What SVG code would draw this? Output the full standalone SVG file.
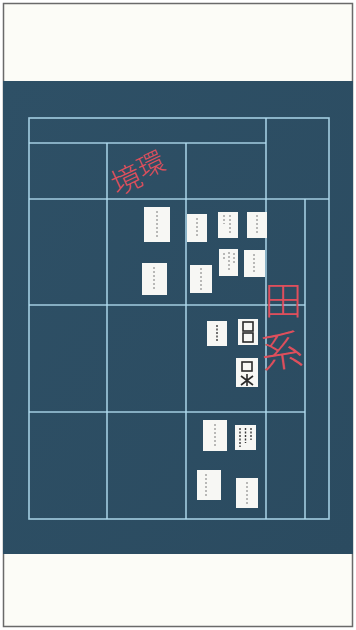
<svg xmlns="http://www.w3.org/2000/svg" width="356" height="630" viewBox="0 0 356 630">
<defs>
<style>
.ch{fill:none;stroke:#b0dbee;stroke-width:1.6;opacity:0.9}
.card{fill:#f7f7f4}
.mk{fill:none;stroke:#7a7a7a;stroke-width:1;stroke-dasharray:2 2}
.mkd{fill:none;stroke:#3a3a3a;stroke-width:1.4;stroke-dasharray:2 1.5}
.blk{fill:none;stroke:#2a2a2a;stroke-width:1.6}
.red{fill:#de4f5c;font-family:"Noto Sans CJK JP","Noto Sans CJK SC",sans-serif;font-weight:300}
</style>
<linearGradient id="bg" x1="0" y1="0" x2="1" y2="1">
<stop offset="0" stop-color="#2e5066"/>
<stop offset="1" stop-color="#2b4b60"/>
</linearGradient>
</defs>
<rect x="0" y="0" width="356" height="630" fill="#ffffff"/>
<rect x="3.5" y="3.5" width="349" height="623" fill="#fcfcf7" stroke="#6a6a6a" stroke-width="1.5"/>
<rect x="3" y="81" width="350" height="473" fill="url(#bg)"/>
<g id="grid">
<rect class="ch" x="29" y="118" width="300" height="401"/>
<line class="ch" x1="29" y1="143" x2="266" y2="143"/>
<line class="ch" x1="29" y1="199" x2="329" y2="199"/>
<line class="ch" x1="29" y1="305" x2="305" y2="305"/>
<line class="ch" x1="29" y1="412" x2="305" y2="412"/>
<line class="ch" x1="107" y1="143" x2="107" y2="519"/>
<line class="ch" x1="186" y1="143" x2="186" y2="519"/>
<line class="ch" x1="266" y1="118" x2="266" y2="519"/>
<line class="ch" x1="305" y1="199" x2="305" y2="519"/>
</g>
<g id="label-kankyo">
<text class="red" font-size="27" transform="translate(150,163) rotate(-25)" text-anchor="middle" dominant-baseline="central">環</text>
<text class="red" font-size="30" transform="translate(125,178) rotate(-25)" text-anchor="middle" dominant-baseline="central">境</text>
</g>
<g id="label-denkei">
<text class="red" font-size="38" x="283" y="297" text-anchor="middle" dominant-baseline="central">田</text>
<text class="red" font-size="42" transform="translate(281,348) rotate(-8)" text-anchor="middle" dominant-baseline="central">系</text>
</g>
<g id="card1"><rect class="card" x="144" y="207" width="26" height="35"/><line class="mk" x1="157" y1="211" x2="157" y2="237"/></g>
<g id="card2"><rect class="card" x="187" y="214" width="20" height="28"/><line class="mk" x1="197" y1="218" x2="197" y2="238"/></g>
<g id="card3"><rect class="card" x="218" y="212" width="20" height="26"/><line class="mk" x1="224" y1="215" x2="224" y2="224"/><line class="mk" x1="230" y1="215" x2="230" y2="234"/></g>
<g id="card4"><rect class="card" x="247" y="212" width="20" height="26"/><line class="mk" x1="257" y1="215" x2="257" y2="234"/></g>
<g id="card5"><rect class="card" x="142" y="263" width="25" height="32"/><line class="mk" x1="154" y1="267" x2="154" y2="291"/></g>
<g id="card6"><rect class="card" x="190" y="265" width="22" height="28"/><line class="mk" x1="201" y1="268" x2="201" y2="290"/></g>
<g id="card7"><rect class="card" x="219" y="249" width="19" height="27"/><line class="mk" x1="224" y1="253" x2="224" y2="260"/><line class="mk" x1="229" y1="252" x2="229" y2="272"/><line class="mk" x1="234" y1="253" x2="234" y2="264"/></g>
<g id="card8"><rect class="card" x="244" y="250" width="21" height="27"/><line class="mk" x1="254" y1="254" x2="254" y2="273"/></g>
<g id="card9"><rect class="card" x="207" y="321" width="20" height="25"/><line class="mkd" x1="217" y1="325" x2="217" y2="341"/></g>
<g id="card10"><rect class="card" x="238" y="319" width="20" height="26"/><rect class="blk" x="243" y="322" width="10" height="9"/><rect class="blk" x="243" y="333" width="10" height="9"/></g>
<g id="card11"><rect class="card" x="236" y="358" width="22" height="29"/><rect class="blk" x="242" y="362" width="10" height="9"/><path class="blk" d="M241 376 L253 385 M253 376 L241 385 M247 374 L247 386"/></g>
<g id="card12"><rect class="card" x="203" y="420" width="24" height="31"/><line class="mk" x1="215" y1="424" x2="215" y2="446"/></g>
<g id="card13"><rect class="card" x="235" y="425" width="21" height="25"/><line class="mkd" x1="240" y1="428" x2="240" y2="447"/><line class="mkd" x1="245.5" y1="428" x2="245.5" y2="443"/><line class="mkd" x1="251" y1="428" x2="251" y2="440"/></g>
<g id="card14"><rect class="card" x="197" y="470" width="24" height="30"/><line class="mk" x1="206" y1="474" x2="206" y2="496"/></g>
<g id="card15"><rect class="card" x="236" y="478" width="22" height="30"/><line class="mk" x1="247" y1="482" x2="247" y2="504"/></g>
<g id="connectors"></g>
</svg>
